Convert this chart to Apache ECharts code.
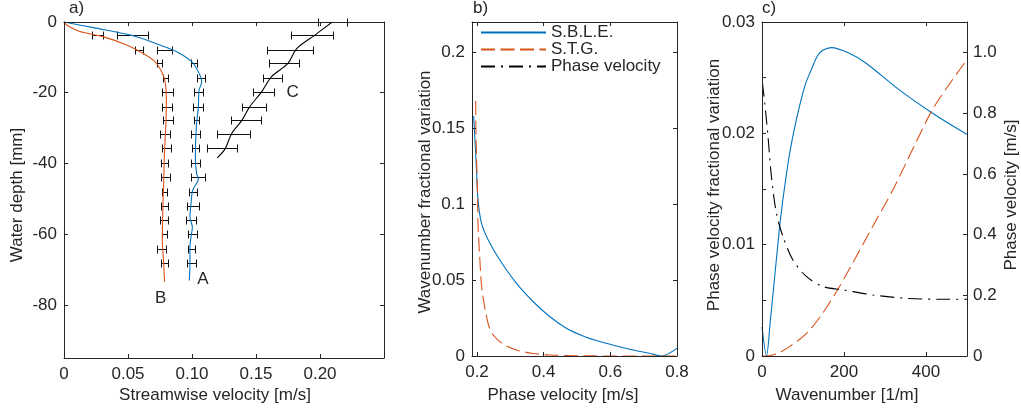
<!DOCTYPE html>
<html>
<head>
<meta charset="utf-8">
<script src="https://cdn.jsdelivr.net/npm/echarts@6/dist/echarts.min.js"></script>
<style>
html,body{margin:0;padding:0;background:#fff;}
#main{width:1021px;height:410px;}
</style>
</head>
<body>
<div id="main"></div>
<script>
// ---------- Panel a: velocity profiles ----------
const depthAB = [-3.7, -7.9, -11.6, -15.9, -19.9, -23.9, -27.8, -31.8, -35.7, -39.8, -43.9, -48.0, -52.0, -56.1, -60.0, -64.1, -68.2];
const meanA = [0.0535, 0.0788, 0.1013, 0.1072, 0.1053, 0.1047, 0.1035, 0.1027, 0.1027, 0.1026, 0.1045, 0.1006, 0.1009, 0.0991, 0.1004, 0.0995, 0.0996];
const errA  = [0.0124, 0.0059, 0.0023, 0.0030, 0.0035, 0.0036, 0.0020, 0.0035, 0.0030, 0.0036, 0.0056, 0.0030, 0.0046, 0.0038, 0.0033, 0.0029, 0.0033];
const meanB = [0.0262, 0.0585, 0.0744, 0.0793, 0.0809, 0.0805, 0.0813, 0.0789, 0.0798, 0.0786, 0.0792, 0.0785, 0.0784, 0.0780, 0.0782, 0.0760, 0.0784];
const errB  = [0.0045, 0.0030, 0.0020, 0.0022, 0.0040, 0.0036, 0.0036, 0.0039, 0.0035, 0.0029, 0.0036, 0.0022, 0.0026, 0.0030, 0.0020, 0.0036, 0.0026];
const depthC = [0, -3.7, -7.9, -11.6, -15.9, -19.9, -23.9, -27.8, -31.8, -35.7];
const meanC  = [0.2098, 0.1935, 0.1763, 0.1721, 0.1627, 0.1557, 0.1482, 0.1420, 0.1327, 0.1234];
const errC   = [0.0110, 0.0164, 0.0180, 0.0117, 0.0075, 0.0083, 0.0094, 0.0118, 0.0129, 0.0115];

const profA_v = [0, 0.023, 0.054, 0.075, 0.088, 0.0998, 0.105, 0.1076, 0.1055, 0.105, 0.1036, 0.1029, 0.1026, 0.1036, 0.105, 0.1005, 0.0992, 0.0984, 0.1003, 0.0992, 0.0984, 0.0984, 0.0979];
const profA_d = [0, -1.6, -3.9, -6.5, -8.4, -11.2, -14.1, -16.9, -19.3, -24.0, -28.7, -33.4, -38.2, -42.9, -44.3, -47.6, -51.4, -55.2, -58.0, -60.8, -63.7, -68.4, -73.1];
const profB_v = [0, 0.002, 0.0125, 0.031, 0.049, 0.062, 0.071, 0.0763, 0.079, 0.080, 0.0797, 0.079, 0.0784, 0.078, 0.0776, 0.0771, 0.0768, 0.0775, 0.0786];
const profB_d = [0, -0.85, -2.7, -4.2, -6.5, -8.9, -11.2, -14.1, -16.9, -21.6, -28.0, -33.0, -38.0, -44.0, -48.0, -55.0, -62.0, -66.0, -73.4];
const profC_v = [0.2096, 0.196, 0.1818, 0.175, 0.162, 0.1545, 0.145, 0.139, 0.131, 0.126, 0.1198];
const profC_d = [0, -3.7, -7.5, -11.7, -15.5, -19.7, -24.0, -27.8, -31.5, -35.8, -38.4];

const annoText = ['A', 'B', 'C'];
const annoV = [0.1086, 0.0755, 0.1787];
const annoD = [-72.8, -78.2, -19.8];

const aXTicks = [0, 0.05, 0.10, 0.15, 0.20];
const aYTicks = [-80, -60, -40, -20, 0];

// ---------- Panel b ----------
const sbleB_x = [0.19, 0.198, 0.203, 0.2133, 0.2333, 0.268, 0.318, 0.368, 0.418, 0.468, 0.518, 0.568, 0.618, 0.668, 0.718, 0.753, 0.8];
const sbleB_y = [0.158, 0.125, 0.103, 0.0877, 0.0766, 0.0634, 0.048, 0.0359, 0.026, 0.0183, 0.0132, 0.0095, 0.0066, 0.004, 0.0018, 0, 0.005];
const stgB_x = [0.196, 0.197, 0.201, 0.203, 0.208, 0.215, 0.233, 0.248, 0.278, 0.318, 0.368, 0.418, 0.5, 0.6, 0.8];
const stgB_y = [0.168, 0.145, 0.112, 0.0877, 0.0656, 0.0436, 0.0216, 0.014, 0.0079, 0.004, 0.0017, 0.0007, 0.0002, 0, 0];
const bXTicks = [0.2, 0.4, 0.6, 0.8];
const bYTicks = [0, 0.05, 0.1, 0.15, 0.2];

// ---------- Panel c ----------
const sbleC_k = [0, 11, 20.4, 28.5, 36.5, 44.8, 55.2, 67.4, 83.7, 104, 120, 140, 169, 213, 254, 335, 416, 500];
const sbleC_v = [0.0026, 0, 0.0032, 0.0062, 0.0092, 0.0122, 0.0152, 0.0182, 0.0212, 0.0242, 0.0257, 0.0272, 0.0277, 0.0272, 0.0263, 0.0239, 0.0218, 0.0199];
const stgC_k = [0, 10, 39, 67, 108, 148, 189, 230, 270, 319, 367, 416, 465, 500];
const stgC_v = [0, 0, 0.00024, 0.00084, 0.002, 0.00384, 0.00624, 0.00894, 0.01164, 0.0149, 0.01854, 0.02214, 0.02484, 0.0266];
const phC_k = [1, 6.6, 14.6, 22.9, 35, 51, 75, 108, 148, 197, 270, 351, 432, 500];
const phC_v = [0.90, 0.834, 0.724, 0.592, 0.471, 0.394, 0.317, 0.262, 0.229, 0.218, 0.201, 0.19, 0.187, 0.187];
const cXTicks = [0, 200, 400];
const cYTicks = [0, 0.005, 0.01, 0.015, 0.02, 0.025, 0.03];
const cYLabels = [0, 0.01, 0.02, 0.03];
const cY2Ticks = [0, 0.2, 0.4, 0.6, 0.8, 1.0];

const legendNames = ['S.B.L.E.', 'S.T.G.', 'Phase velocity'];

// ---------- styles ----------
const FONT = "'Liberation Sans', Arial, Helvetica, sans-serif";
const TXT = '#262626';
const BLUE = '#0072BD', ORANGE = '#D95319', BLACK = '#000000';
const FS = 17;

function pairs(xs, ys) { return xs.map((x, i) => [x, ys[i]]); }

function axis(o) {
  return {
    type: 'value', gridIndex: o.grid, position: o.pos, min: o.min, max: o.max,
    splitLine: { show: false },
    axisLine: { show: true, onZero: false, lineStyle: { color: TXT, width: 1 } },
    axisTick: { show: true, inside: true, length: 4, lineStyle: { color: TXT, width: 1 }, customValues: o.ticks },
    axisLabel: { show: !!o.labels, color: TXT, fontSize: FS, fontFamily: FONT, margin: o.margin || 7,
      customValues: o.labels || o.ticks, formatter: o.fmt },
    z: 5
  };
}

const fmtA = v => v === 0 ? '0' : v.toFixed(2);
const fmtR = v => v === 0 ? '0' : v.toFixed(1);

function errRender(params, api) {
  const x = api.value(0), y = api.value(1), e = api.value(2);
  const l = api.coord([x - e, y]), r = api.coord([x + e, y]);
  const h = 4;
  const st = { stroke: '#111', lineWidth: 1, fill: null };
  const yy = Math.round(l[1]) + 0.5, xl = Math.round(l[0]) + 0.5, xr = Math.round(r[0]) + 0.5;
  return { type: 'group', children: [
    { type: 'line', shape: { x1: xl, y1: yy, x2: xr, y2: yy }, style: st },
    { type: 'line', shape: { x1: xl, y1: yy - h, x2: xl, y2: yy + h }, style: st },
    { type: 'line', shape: { x1: xr, y1: yy - h, x2: xr, y2: yy + h }, style: st }
  ]};
}

function lineSeries(name, data, color, type, xi, yi, smooth) {
  return {
    type: 'line', name: name, data: data, xAxisIndex: xi, yAxisIndex: yi,
    symbol: 'none', smooth: smooth, clip: true, silent: true, z: 4,
    lineStyle: { color: color, width: 1.1, type: type },
    itemStyle: { color: color }
  };
}

function errSeries(means, depths, errs) {
  return {
    type: 'custom', xAxisIndex: 0, yAxisIndex: 0, silent: true, z: 3,
    data: depths.map((d, i) => [means[i], d, errs[i]]),
    encode: { x: 0, y: 1 },
    renderItem: errRender
  };
}

const DASH = [14, 5.5];
const DASHDOT = [14, 6, 2, 6];

function text(t, x, y, rot, align) {
  return {
    type: 'text', x: x, y: y, rotation: rot || 0, silent: true,
    style: { text: t, x: 0, y: 0, fill: TXT, font: FS + 'px ' + FONT,
      textAlign: align || 'center', textVerticalAlign: 'middle' }
  };
}

const option = {
  animation: false,
  backgroundColor: '#fff',
  textStyle: { fontFamily: FONT },
  grid: [
    { left: 64, top: 22, width: 320, height: 336, outerBoundsMode: 'none' },
    { left: 472, top: 22, width: 205, height: 334, outerBoundsMode: 'none' },
    { left: 762, top: 22, width: 205, height: 334, outerBoundsMode: 'none' }
  ],
  xAxis: [
    axis({ grid: 0, pos: 'bottom', min: 0, max: 0.25, ticks: aXTicks, labels: aXTicks, fmt: fmtA, margin: 8 }),
    axis({ grid: 0, pos: 'top', min: 0, max: 0.25, ticks: aXTicks }),
    axis({ grid: 1, pos: 'bottom', min: 0.185, max: 0.8, ticks: bXTicks, labels: bXTicks, margin: 8 }),
    axis({ grid: 1, pos: 'top', min: 0.185, max: 0.8, ticks: bXTicks }),
    axis({ grid: 2, pos: 'bottom', min: 0, max: 500, ticks: cXTicks, labels: cXTicks, margin: 8 }),
    axis({ grid: 2, pos: 'top', min: 0, max: 500, ticks: cXTicks })
  ],
  yAxis: [
    axis({ grid: 0, pos: 'left', min: -95, max: 0, ticks: aYTicks, labels: aYTicks }),
    axis({ grid: 0, pos: 'right', min: -95, max: 0, ticks: aYTicks }),
    axis({ grid: 1, pos: 'left', min: 0, max: 0.22, ticks: bYTicks, labels: bYTicks }),
    axis({ grid: 1, pos: 'right', min: 0, max: 0.22, ticks: bYTicks }),
    axis({ grid: 2, pos: 'left', min: 0, max: 0.03, ticks: cYTicks, labels: cYLabels }),
    axis({ grid: 2, pos: 'right', min: 0, max: 1.1, ticks: cY2Ticks, labels: cY2Ticks, fmt: fmtR, margin: 6 })
  ],
  legend: {
    show: true, data: legendNames, orient: 'vertical', left: 480, top: 24,
    itemWidth: 65, itemHeight: 19, itemGap: 0, padding: 0, selectedMode: false,
    itemStyle: { opacity: 0, borderWidth: 0 },
    textStyle: { color: TXT, fontSize: FS, fontFamily: FONT }
  },
  series: [
    // panel a
    errSeries(meanA, depthAB, errA),
    errSeries(meanB, depthAB, errB),
    errSeries(meanC, depthC, errC),
    lineSeries('A', pairs(profA_v, profA_d), BLUE, 'solid', 0, 0, 0.3),
    lineSeries('B', pairs(profB_v, profB_d), ORANGE, 'solid', 0, 0, 0.3),
    lineSeries('C', pairs(profC_v, profC_d), BLACK, 'solid', 0, 0, 0.3),
    {
      type: 'scatter', xAxisIndex: 0, yAxisIndex: 0, symbolSize: 0, silent: true,
      data: annoText.map((t, i) => ({ value: [annoV[i], annoD[i]], name: t })),
      label: { show: true, position: 'inside', formatter: p => p.name, color: TXT, opacity: 1,
        fontSize: FS, fontFamily: FONT, textBorderWidth: 0 }
    },
    // panel b
    lineSeries('S.B.L.E.', pairs(sbleB_x, sbleB_y), BLUE, 'solid', 2, 2, 0.3),
    lineSeries('S.T.G.', pairs(stgB_x, stgB_y), ORANGE, DASH, 2, 2, 0.3),
    // panel c
    lineSeries('S.B.L.E.', pairs(sbleC_k, sbleC_v), BLUE, 'solid', 4, 4, 0.3),
    lineSeries('S.T.G.', pairs(stgC_k, stgC_v), ORANGE, DASH, 4, 4, 0.3),
    lineSeries('Phase velocity', pairs(phC_k, phC_v), BLACK, DASHDOT, 4, 5, 0.3)
  ],
  graphic: [
    text('a)', 69, 8, 0, 'left'),
    text('b)', 473, 8, 0, 'left'),
    text('c)', 762, 8, 0, 'left'),
    text('Streamwise velocity [m/s]', 215, 395),
    text('Water depth [mm]', 17, 195, Math.PI / 2),
    text('Phase velocity [m/s]', 563, 395),
    text('Wavenumber fractional variation', 425, 192, Math.PI / 2),
    text('Wavenumber [1/m]', 847, 395),
    text('Phase velocity fractional variation', 714, 185, Math.PI / 2),
    text('Phase velocity [m/s]', 1011, 195, Math.PI / 2)
  ]
};

const chart = echarts.init(document.getElementById('main'), null, { renderer: 'canvas' });
chart.setOption(option);
</script>
</body>
</html>
